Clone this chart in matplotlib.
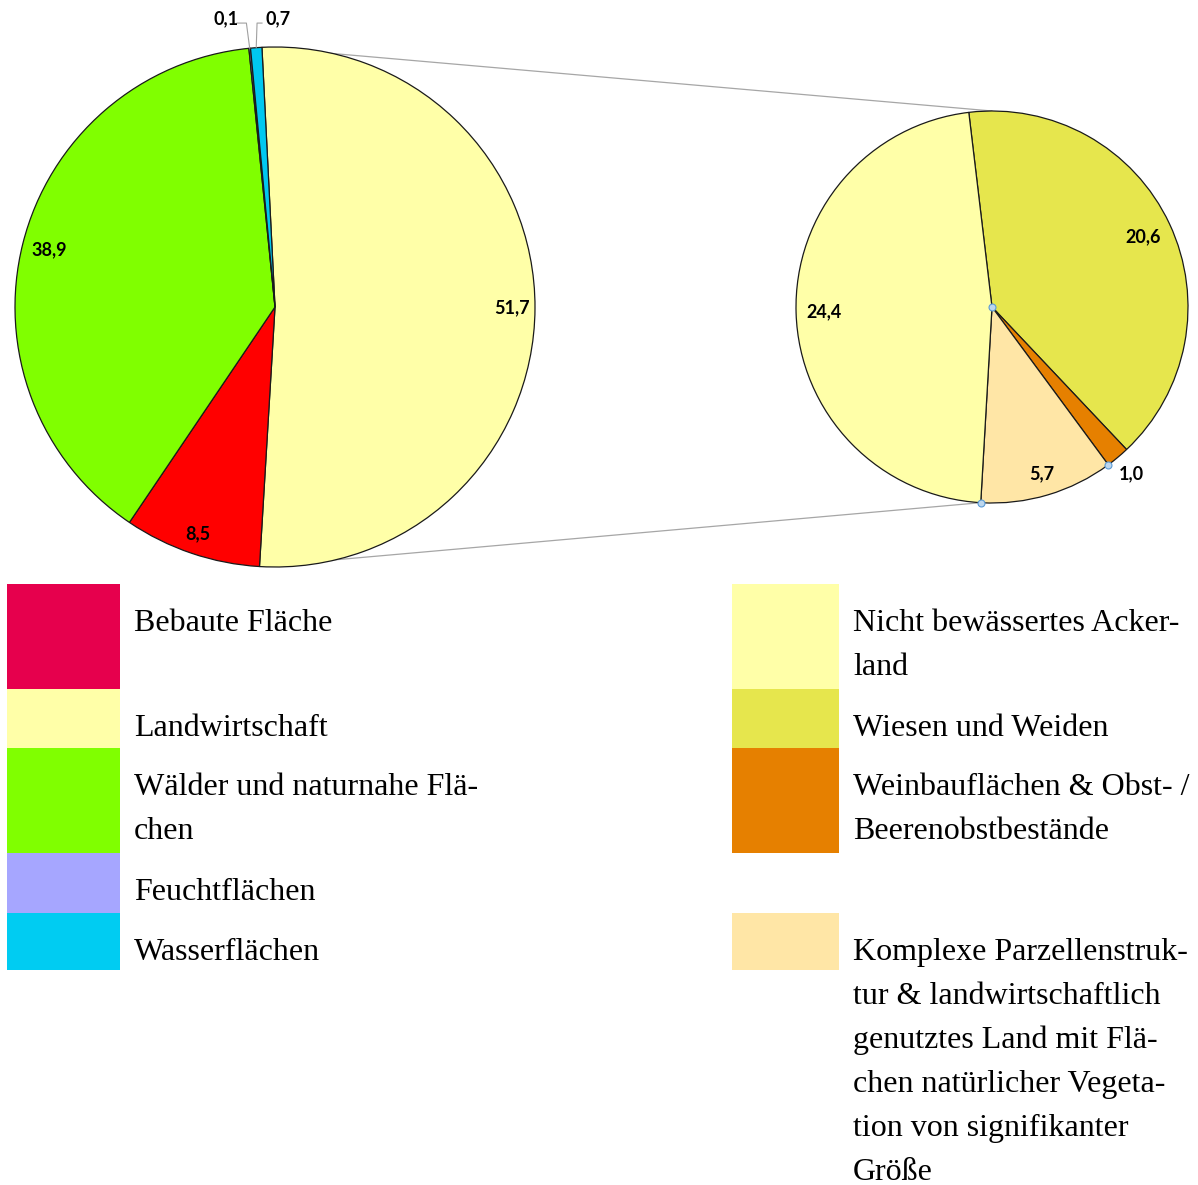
import numpy as np
import matplotlib.pyplot as plt
from matplotlib.patches import ConnectionPatch, Rectangle

# Hauptkreis: Landnutzung (Anteile in %)
haupt_werte = [51.7, 8.5, 38.9, 0.1, 0.7]
haupt_farben = ['#FFFFA8', '#FF0000', '#80FF00', '#A6A6FF', '#00C8F0']
haupt_texte = ['51,7', '8,5', '38,9', '0,1', '0,7']

# Nebenkreis: Aufteilung der Landwirtschaft
land_werte = [20.6, 1.0, 5.7, 24.4]
land_farben = ['#E6E64D', '#E68000', '#FFE6A6', '#FFFFA8']
land_texte = ['20,6', '1,0', '5,7', '24,4']

# Legende
leg_links = ['Bebaute Fläche', 'Landwirtschaft', 'Wälder und naturnahe Flä-\nchen',
             'Feuchtflächen', 'Wasserflächen']
leg_links_farben = ['#E6004D', '#FFFFA8', '#80FF00', '#A6A6FF', '#00CCF2']
leg_rechts = ['Nicht bewässertes Acker-\nland', 'Wiesen und Weiden',
              'Weinbauflächen & Obst- /\nBeerenobstbestände', '',
              'Komplexe Parzellenstruk-\ntur & landwirtschaftlich\ngenutztes Land mit Flä-\n'
              'chen natürlicher Vegeta-\ntion von signifikanter\nGröße']
leg_rechts_farben = ['#FFFFA8', '#E6E64D', '#E68000', None, '#FFE6A6']

W, H = 1198, 1185
fig = plt.figure(figsize=(W / 100, H / 100), dpi=100)

# Overlay in Pixelkoordinaten für die Legende
ax0 = fig.add_axes([0, 0, 1, 1])
ax0.set_xlim(0, W)
ax0.set_ylim(H, 0)
ax0.axis('off')

edge = dict(edgecolor='#1a1a1a', linewidth=0.9)
lab_font = dict(family='Lato', fontweight='bold', fontsize=13, ha='center', va='center')

# großer Kreis
ax1 = fig.add_axes([15 / W, 1 - 567 / H, 520 / W, 520 / H])
start = 90 + (haupt_werte[3] + haupt_werte[4]) / sum(haupt_werte) * 360
w1, _ = ax1.pie(haupt_werte, colors=haupt_farben, startangle=start, counterclock=False,
                wedgeprops=edge, normalize=True)
ax1.set_xlim(-1, 1)
ax1.set_ylim(-1, 1)
ax1.axis('off')

r_lab = [0.91, 0.92, 0.895]
for w, t, r in zip(w1[:3], haupt_texte[:3], r_lab):
    m = np.deg2rad((w.theta1 + w.theta2) / 2)
    ax1.text(r * np.cos(m), r * np.sin(m), t, **lab_font)

# kleine Anteile mit Führungslinien
for w, t, ex, endx, tx in zip(w1[3:], haupt_texte[3:], [-0.11, -0.069], [-0.146, -0.05], [-0.19, 0.013]):
    m = np.deg2rad((w.theta1 + w.theta2) / 2)
    x0, y0 = np.cos(m), np.sin(m)
    ax1.plot([x0, ex, endx], [y0, 1.092, 1.092], color='#A0A0A0', lw=0.8, clip_on=False)
    ax1.text(tx, 1.11, t, **lab_font)

# kleiner Kreis
ax2 = fig.add_axes([796 / W, 1 - 503 / H, 392 / W, 392 / H])
w2, _ = ax2.pie(land_werte, colors=land_farben, startangle=96.8, counterclock=False,
                wedgeprops=edge)
ax2.set_xlim(-1, 1)
ax2.set_ylim(-1, 1)
ax2.axis('off')

r_lab2 = [0.85, 1.11, 0.89, 0.86]
for w, t, r in zip(w2, land_texte, r_lab2):
    m = np.deg2rad((w.theta1 + w.theta2) / 2)
    ax2.text(r * np.cos(m), r * np.sin(m), t, **lab_font)

# Markierungspunkte
hx = [0, np.cos(np.deg2rad(w2[2].theta2)), np.cos(np.deg2rad(w2[2].theta1))]
hy = [0, np.sin(np.deg2rad(w2[2].theta2)), np.sin(np.deg2rad(w2[2].theta1))]
ax2.plot(hx, hy, 'o', ms=5, mfc='#BDD7EE', mec='#5B9BD5', mew=0.8, ls='none', clip_on=False)

# Verbindungslinien
lw = w1[0]
a_top = np.deg2rad(lw.theta2)
a_bot = np.deg2rad(lw.theta1)
b_bot = np.deg2rad(w2[3].theta2)
for pa, pb in [((np.cos(a_top), np.sin(a_top)), (0, 1)),
               ((np.cos(a_bot), np.sin(a_bot)), (np.cos(b_bot), np.sin(b_bot)))]:
    con = ConnectionPatch(xyA=pa, coordsA=ax1.transData, xyB=pb, coordsB=ax2.transData,
                          color='#A6A6A6', lw=0.9, zorder=-1)
    fig.add_artist(con)

# Legende
row_top = [584, 689, 748, 853, 913]
row_bot = [689, 748, 853, 913, 970]
leg_font = dict(family='Liberation Serif', fontsize=23, va='baseline', color='black')

for spalte, namen, farben in [(0, leg_links, leg_links_farben), (1, leg_rechts, leg_rechts_farben)]:
    bx, bw, tx = (7, 113, 134) if spalte == 0 else (732, 107, 853)
    for i, (name, f) in enumerate(zip(namen, farben)):
        if f is None:
            continue
        ax0.add_patch(Rectangle((bx, row_top[i]), bw, row_bot[i] - row_top[i],
                                facecolor=f, edgecolor='none'))
        for j, zeile in enumerate(name.split('\n')):
            ax0.text(tx, row_top[i] + 47 + j * 44, zeile, **leg_font)

fig.savefig('out.png', dpi=100)
